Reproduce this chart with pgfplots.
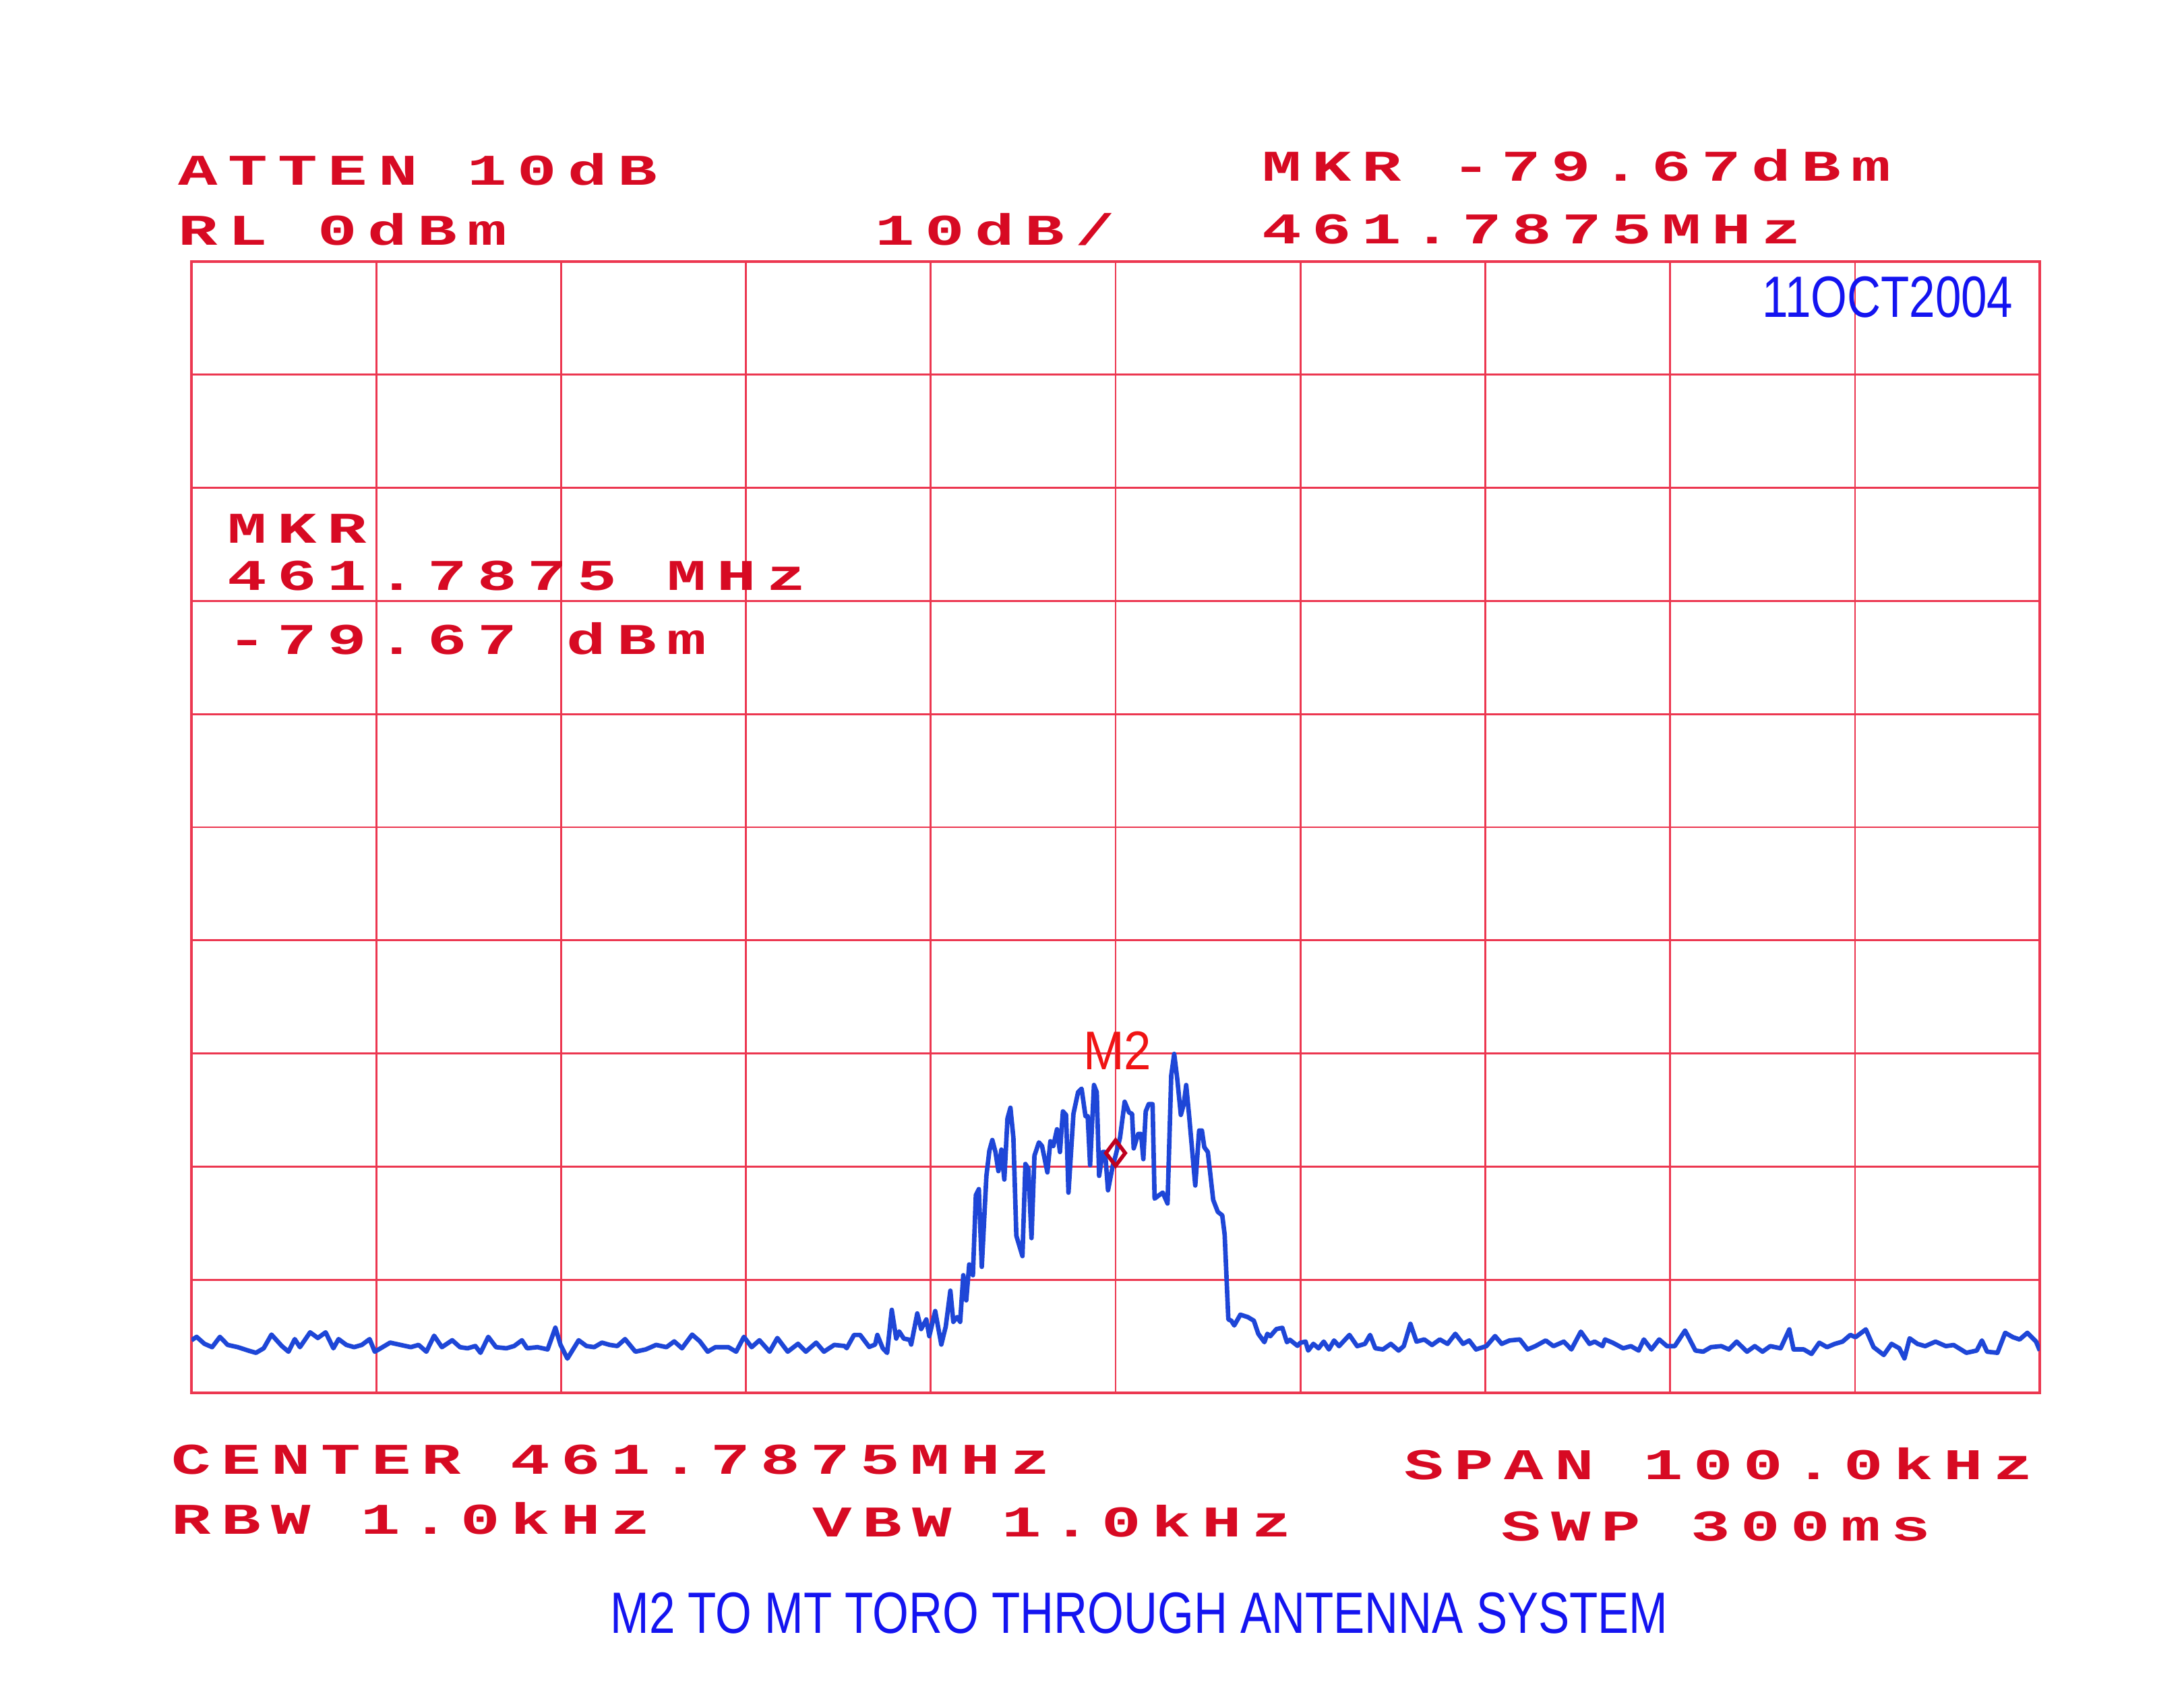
\documentclass[border=0pt]{standalone}
\usepackage{fontspec}
\setmainfont{Liberation Sans}
\newfontfamily\plotfont[FakeStretch=1.5,LetterSpace=24]{Liberation Mono}
\newfontfamily\handfont[FakeStretch=0.8]{Liberation Sans}
\newfontfamily\mfont[FakeStretch=0.9]{Liberation Sans}
\usepackage{pgfplots}
\pgfplotsset{compat=1.18}
\definecolor{gridred}{RGB}{236,55,80}
\definecolor{txtred}{RGB}{215,10,35}
\definecolor{trace}{RGB}{30,70,215}
\definecolor{penblue}{RGB}{20,20,240}
\definecolor{mkred}{RGB}{190,0,30}
\definecolor{m2red}{RGB}{240,20,20}
\newcommand{\pf}{\plotfont\bfseries\fontsize{18.5pt}{20pt}\selectfont}
\begin{document}
\begin{tikzpicture}[x=1cm,y=1cm]
\useasboundingbox (0,0) rectangle (32.4,25.28);
\begin{axis}[at={(2.84cm,4.62cm)}, anchor=south west, scale only axis,
  width=27.42cm, height=16.78cm,
  xmin=-50, xmax=50, ymin=-100, ymax=0,
  xtick={-50,-40,...,50}, ytick={-100,-90,...,0},
  xticklabels={}, yticklabels={},
  major tick length=0pt,
  grid=major, major grid style={gridred, line width=0.75pt},
  axis line style={gridred, line width=1.1pt}]
\addplot[trace, line width=1.9pt, line join=round] coordinates {
(-50.00,-95.35) (-49.72,-95.05) (-49.30,-95.66) (-48.88,-95.96) (-48.46,-95.05)
(-48.04,-95.76) (-47.49,-95.96) (-46.93,-96.26) (-46.51,-96.46) (-46.09,-96.06)
(-45.67,-94.85) (-45.11,-95.86) (-44.75,-96.36) (-44.41,-95.25) (-44.13,-95.96)
(-43.58,-94.65) (-43.16,-95.15) (-42.74,-94.65) (-42.32,-96.06) (-42.04,-95.25)
(-41.62,-95.76) (-41.20,-95.96) (-40.78,-95.76) (-40.36,-95.25) (-40.08,-96.36)
(-39.66,-95.96) (-39.25,-95.56) (-38.69,-95.76) (-38.13,-95.96) (-37.71,-95.76)
(-37.29,-96.36) (-36.87,-94.95) (-36.45,-95.96) (-35.89,-95.35) (-35.47,-95.96)
(-35.06,-96.06) (-34.64,-95.86) (-34.36,-96.46) (-33.94,-95.05) (-33.52,-95.96)
(-32.96,-96.06) (-32.54,-95.86) (-32.12,-95.35) (-31.84,-96.06) (-31.28,-95.96)
(-30.73,-96.16) (-30.31,-94.24) (-30.03,-95.76) (-29.66,-96.97) (-29.05,-95.35)
(-28.63,-95.86) (-28.21,-95.96) (-27.79,-95.56) (-27.37,-95.76) (-26.96,-95.86)
(-26.54,-95.25) (-25.98,-96.36) (-25.42,-96.16) (-24.86,-95.76) (-24.30,-95.96)
(-23.88,-95.45) (-23.46,-96.06) (-22.91,-94.85) (-22.49,-95.45) (-22.07,-96.36)
(-21.65,-95.96) (-20.95,-95.96) (-20.53,-96.36) (-20.11,-95.05) (-19.69,-95.96)
(-19.27,-95.35) (-18.72,-96.36) (-18.30,-95.15) (-17.74,-96.36) (-17.18,-95.66)
(-16.76,-96.36) (-16.20,-95.56) (-15.78,-96.36) (-15.22,-95.76) (-14.66,-95.86)
(-14.55,-96.05) (-14.15,-94.88) (-13.82,-94.88) (-13.33,-95.94) (-13.01,-95.73)
(-12.89,-94.88) (-12.60,-96.05) (-12.36,-96.47) (-12.11,-92.66) (-11.87,-95.20)
(-11.71,-94.57) (-11.46,-95.20) (-11.14,-95.31) (-11.06,-95.73) (-10.73,-92.98)
(-10.52,-94.36) (-10.24,-93.51) (-10.08,-94.99) (-9.76,-92.77) (-9.43,-95.73)
(-9.19,-94.14) (-8.94,-90.97) (-8.78,-93.72) (-8.57,-93.30) (-8.41,-93.72)
(-8.24,-89.60) (-8.08,-91.82) (-7.92,-88.65) (-7.72,-89.60) (-7.56,-82.52)
(-7.40,-81.99) (-7.24,-88.86) (-6.99,-80.82) (-6.83,-78.60) (-6.67,-77.65)
(-6.50,-78.71) (-6.34,-80.40) (-6.18,-78.50) (-6.02,-81.14) (-5.85,-75.75)
(-5.69,-74.80) (-5.53,-77.44) (-5.37,-86.11) (-5.04,-87.91) (-4.88,-79.77)
(-4.72,-80.19) (-4.55,-86.32) (-4.39,-79.03) (-4.15,-77.86) (-3.98,-78.18)
(-3.69,-80.51) (-3.53,-77.76) (-3.37,-78.18) (-3.17,-76.70) (-3.01,-78.71)
(-2.85,-75.12) (-2.68,-75.43) (-2.55,-82.30) (-2.28,-75.33) (-2.03,-73.42)
(-1.84,-73.11) (-1.63,-75.54) (-1.51,-75.54) (-1.38,-79.87) (-1.17,-72.79)
(-1.02,-73.42) (-0.89,-80.82) (-0.70,-78.71) (-0.57,-78.71) (-0.41,-82.09)
(-0.16,-79.98) (0.00,-79.03) (0.24,-77.44) (0.49,-74.27) (0.73,-75.22)
(0.89,-75.33) (0.98,-78.39) (1.22,-77.12) (1.38,-77.12) (1.50,-79.34)
(1.63,-75.12) (1.79,-74.48) (2.00,-74.48) (2.11,-82.83) (2.36,-82.52)
(2.55,-82.30) (2.81,-83.26) (3.01,-71.95) (3.17,-70.04) (3.33,-72.16)
(3.53,-75.43) (3.69,-74.48) (3.82,-72.79) (3.98,-75.54) (4.31,-81.67)
(4.52,-76.81) (4.67,-76.81) (4.80,-78.29) (4.99,-78.71) (5.28,-82.94)
(5.53,-84.00) (5.77,-84.31) (5.90,-86.00) (6.10,-93.51) (6.26,-93.62)
(6.42,-94.04) (6.75,-93.09) (7.15,-93.30) (7.48,-93.62) (7.72,-94.78)
(8.05,-95.52) (8.21,-94.78) (8.37,-94.99) (8.70,-94.36) (9.02,-94.25)
(9.27,-95.52) (9.43,-95.31) (9.84,-95.84)
(10.00,-95.57) (10.28,-95.47) (10.42,-96.26) (10.70,-95.67) (10.98,-96.06)
(11.26,-95.47) (11.54,-96.16) (11.82,-95.37) (12.09,-95.87) (12.65,-94.88)
(13.07,-95.87) (13.49,-95.67) (13.77,-94.88) (14.05,-96.06) (14.47,-96.16)
(14.89,-95.67) (15.31,-96.26) (15.59,-95.87) (15.95,-93.90) (16.28,-95.47)
(16.70,-95.28) (17.12,-95.77) (17.54,-95.28) (17.96,-95.67) (18.38,-94.78)
(18.80,-95.67) (19.13,-95.37) (19.50,-96.16) (20.06,-95.87) (20.53,-94.98)
(20.89,-95.67) (21.31,-95.37) (21.87,-95.28) (22.29,-96.16) (22.71,-95.87)
(23.27,-95.37) (23.69,-95.87) (24.25,-95.47) (24.66,-96.16) (25.17,-94.59)
(25.64,-95.67) (25.92,-95.47) (26.34,-95.87) (26.48,-95.28) (26.90,-95.57)
(27.46,-96.06) (27.88,-95.87) (28.30,-96.26) (28.58,-95.28) (28.99,-96.16)
(29.41,-95.28) (29.83,-95.87) (30.25,-95.87) (30.81,-94.49) (31.37,-96.26)
(31.79,-96.36) (32.21,-95.96) (32.77,-95.87) (33.18,-96.16) (33.60,-95.47)
(34.16,-96.36) (34.58,-95.87) (35.00,-96.36) (35.42,-95.87) (35.98,-96.06)
(36.45,-94.39) (36.68,-96.16) (37.23,-96.16) (37.65,-96.56) (38.07,-95.57)
(38.49,-95.96) (38.91,-95.67) (39.33,-95.47) (39.75,-94.88) (40.03,-95.08)
(40.59,-94.39) (41.01,-95.96) (41.56,-96.65) (41.98,-95.67) (42.40,-96.06)
(42.68,-96.95) (42.96,-95.18) (43.38,-95.67) (43.80,-95.87) (44.36,-95.47)
(44.92,-95.87) (45.34,-95.77) (46.03,-96.46) (46.59,-96.26) (46.87,-95.37)
(47.15,-96.36) (47.71,-96.46) (48.13,-94.69) (48.55,-95.08) (48.91,-95.28)
(49.33,-94.69) (49.80,-95.47) (50.00,-96.26)
};
\addplot[only marks, mark=diamond, mark size=5.4pt, mark options={draw=mkred, line width=1.6pt, fill=none}] coordinates {(0,-78.8)};
\node[m2red, anchor=base, inner sep=0pt, font=\mfont\fontsize{23pt}{24pt}\selectfont] at (axis cs:0.1,-71.45) {M2};
\end{axis}
\begin{scope}[every node/.style={anchor=base west, inner sep=0pt, text=txtred, font=\pf}]
\node at (2.64,22.53) {ATTEN 10dB};
\node at (2.64,21.64) {RL 0dBm};
\node at (12.98,21.64) {10dB/};
\node at (18.72,22.59) {MKR -79.67dBm};
\node at (18.72,21.66) {461.7875MHz};
\node at (3.37,17.22) {MKR};
\node at (3.37,16.52) {461.7875 MHz};
\node at (3.37,15.57) {-79.67 dBm};
\node at (2.54,3.42) {CENTER 461.7875MHz};
\node at (20.83,3.34) {SPAN 100.0kHz};
\node at (2.54,2.53) {RBW 1.0kHz};
\node at (12.05,2.49) {VBW 1.0kHz};
\node at (22.27,2.43) {SWP 300ms};
\end{scope}
\node[anchor=base west, inner sep=0pt, text=penblue, font=\handfont\fontsize{24.6pt}{26pt}\selectfont] at (26.14,20.57) {11OCT2004};
\node[anchor=base, inner sep=0pt, text=penblue, font=\handfont\fontsize{24.6pt}{26pt}\selectfont] at (16.9,1.06) {M2 TO MT TORO THROUGH ANTENNA SYSTEM};
\end{tikzpicture}
\end{document}
